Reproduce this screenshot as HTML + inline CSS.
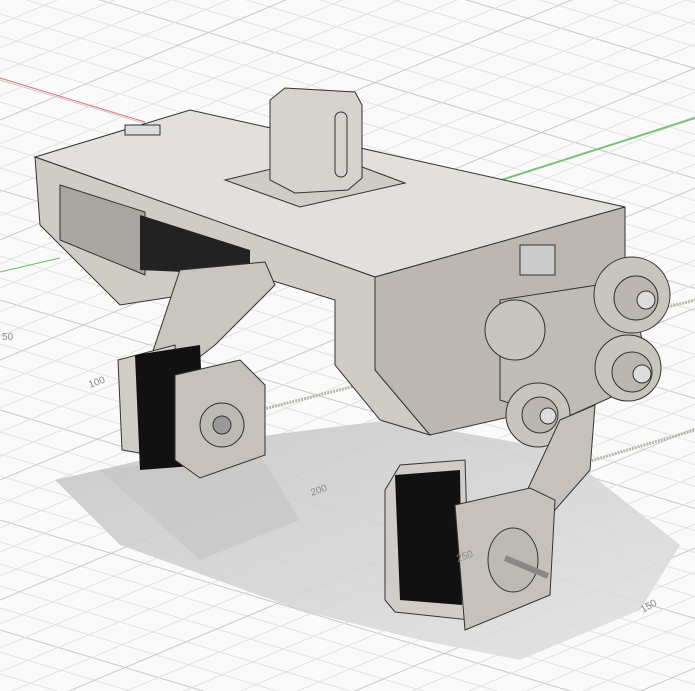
<!DOCTYPE html>
<html><head><meta charset="utf-8"><style>
html,body{margin:0;padding:0;background:#fff;width:695px;height:691px;overflow:hidden;position:relative}
svg{display:block;position:absolute;left:0;top:0;overflow:hidden}
</style></head><body>
<svg id="s" width="695" height="691" viewBox="0 0 695 691" xmlns="http://www.w3.org/2000/svg">
<defs>
<linearGradient id="sh" x1="0" y1="0" x2="1" y2="1">
<stop offset="0" stop-color="#c6c6c6"/><stop offset="1" stop-color="#e2e2e2"/>
</linearGradient>
<clipPath id="cp"><rect width="695" height="691"/></clipPath>
</defs>
<rect width="695" height="691" fill="#fafafa"/>
<g id="grid" stroke="#e2e2e2" stroke-width="1" clip-path="url(#cp)"></g>
<line x1="0" y1="78" x2="145" y2="122" stroke="#e07070" stroke-width="1"/>
<line x1="0" y1="272" x2="60" y2="258" stroke="#60c060" stroke-width="1"/>
<line x1="470" y1="190" x2="695" y2="118" stroke="#7abf7a" stroke-width="2"/>
<line x1="240" y1="415" x2="695" y2="300" stroke="#b9b9a8" stroke-width="3" stroke-dasharray="2 1"/>
<line x1="560" y1="470" x2="695" y2="430" stroke="#b9b9a8" stroke-width="3" stroke-dasharray="2 1"/>
<polygon points="55,480 230,440 390,420 560,450 680,545 640,610 520,660 420,640 300,610 120,545" fill="url(#sh)" opacity="0.9"/>
<polygon points="100,470 260,455 300,520 200,560" fill="#c2c2c2" opacity="0.5"/>
<polygon points="35,157 190,110 625,207 375,277" fill="#e2e0dc" stroke="#333" stroke-width="1"/>
<polygon points="35,157 375,277 375,370 430,435 380,420 335,365 335,300 270,280 250,285 120,305 40,225" fill="#cfcbc5" stroke="#333" stroke-width="1"/>
<polygon points="375,277 625,207 625,290 560,320 540,410 430,435 375,370" fill="#bcb8b1" stroke="#333" stroke-width="1"/>
<polygon points="60,185 145,212 145,275 60,240" fill="#a9a5a0" stroke="#333" stroke-width="1"/>
<polygon points="140,215 250,250 250,275 140,270" fill="#222" />
<polygon points="225,180 330,155 405,183 300,207" fill="#cfcbc5" stroke="#333"/>
<polygon points="270,100 285,88 355,92 362,105 362,178 348,190 295,193 270,180" fill="#d6d3ce" stroke="#333"/>
<rect x="335" y="112" width="12" height="65" rx="6" fill="none" stroke="#333"/>
<rect x="125" y="125" width="35" height="10" fill="#ddd" stroke="#333"/>
<rect x="520" y="245" width="35" height="30" fill="#ccc" stroke="#333"/>
<polygon points="180,270 265,262 275,285 215,345 170,380 150,360" fill="#c9c5bf" stroke="#333"/>
<polygon points="118,360 175,345 180,460 122,450" fill="#d0cdc8" stroke="#333"/>
<polygon points="135,355 200,345 205,465 140,470" fill="#111"/>
<polygon points="175,375 240,360 265,385 265,455 200,478 175,460" fill="#c6c2bb" stroke="#333"/>
<circle cx="222" cy="425" r="22" fill="#bdb9b3" stroke="#333"/>
<circle cx="222" cy="425" r="9" fill="#999" stroke="#333"/>
<polygon points="500,300 630,280 650,380 560,420 500,400" fill="#bfbbb5" stroke="#333"/>
<circle cx="632" cy="295" r="38" fill="#c8c4be" stroke="#333"/>
<circle cx="636" cy="298" r="22" fill="#bbb7b0" stroke="#333"/>
<circle cx="646" cy="300" r="9" fill="#ddd" stroke="#333"/>
<circle cx="628" cy="368" r="33" fill="#c8c4be" stroke="#333"/>
<circle cx="632" cy="372" r="20" fill="#bbb7b0" stroke="#333"/>
<circle cx="642" cy="374" r="9" fill="#ddd" stroke="#333"/>
<circle cx="515" cy="330" r="30" fill="#c8c4be" stroke="#333"/>
<circle cx="538" cy="415" r="32" fill="#c8c4be" stroke="#333"/>
<circle cx="540" cy="415" r="18" fill="#bbb7b0" stroke="#333"/>
<circle cx="548" cy="416" r="8" fill="#ddd" stroke="#333"/>
<polygon points="560,420 595,405 590,470 555,510 525,495" fill="#c6c2bb" stroke="#333"/>
<polygon points="385,490 400,465 465,460 470,620 395,612 385,600" fill="#d0cdc8" stroke="#333"/>
<polygon points="395,475 460,470 462,605 400,600" fill="#111"/>
<polygon points="455,505 530,488 555,500 550,595 465,630" fill="#c6c2bb" stroke="#333"/>
<ellipse cx="513" cy="560" rx="25" ry="32" fill="#bdb9b3" stroke="#333"/>
<line x1="505" y1="558" x2="548" y2="576" stroke="#888" stroke-width="6"/>
<g font-family="Liberation Sans, sans-serif" font-size="10" fill="#888">
<text x="90" y="388" transform="rotate(-20 90 388)">100</text>
<text x="312" y="496" transform="rotate(-20 312 496)">200</text>
<text x="458" y="562" transform="rotate(-20 458 562)">250</text>
<text x="643" y="613" transform="rotate(-30 643 613)">150</text>
<text x="2" y="340">50</text>
</g>
</svg>
<script>
(function(){
var g=document.getElementById('grid'),ns='http://www.w3.org/2000/svg';
function L(x1,y1,x2,y2,c){var l=document.createElementNS(ns,'line');l.setAttribute('x1',x1);l.setAttribute('y1',y1);l.setAttribute('x2',x2);l.setAttribute('y2',y2);if(c)l.setAttribute('stroke',c);g.appendChild(l);}
for(var a=-250;a<700;a+=22){L(0,a,695,a+0.3*695,(Math.round((a+250)/22)%5==0)?'#c8c8c8':null);}
for(var b=0;b<1100;b+=24){L(0,b,695,b-0.42*695,(Math.round(b/24)%5==0)?'#c8c8c8':null);}
})();
</script>
</body></html>
